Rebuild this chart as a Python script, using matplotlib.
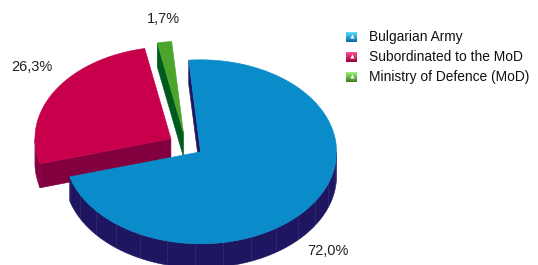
import numpy as np
import matplotlib.pyplot as plt
from matplotlib.patches import Polygon
from matplotlib.colors import to_rgb

plt.rcParams['font.family'] = ['Liberation Sans', 'DejaVu Sans']

# ---- data ----
labels = ['Bulgarian Army', 'Subordinated to the MoD', 'Ministry of Defence (MoD)']
shares = [72.0, 26.3, 1.7]
value_labels = ['72,0%', '26,3%', '1,7%']
top_colors = ['#0a8cca', '#c8004b', '#4ba42c']
side_colors = ['#1e1660', '#82003f', '#005a20']

# ---- layout (pixel space) ----
cx, cy = 186, 145
rx, ry = 136, 92
depth = 24
explode = 0.13
start = 95.0
label_pos = [(328, 251), (32, 67), (163, 19)]

fig = plt.figure(figsize=(5.38, 2.65), dpi=100)
ax = fig.add_axes([0, 0, 1, 1])
ax.set_xlim(0, 538)
ax.set_ylim(265, 0)
ax.axis('off')


def arc(ox, oy, a_from, a_to, n=None):
    if n is None:
        n = max(int(abs(a_to - a_from)) + 2, 3)
    t = np.radians(np.linspace(a_from, a_to, n))
    return np.column_stack([ox + rx * np.cos(t), oy - ry * np.sin(t)])


# slice angles, clockwise from start
slices = []
acc = start
for i, s in enumerate(shares):
    a0 = acc
    a1 = acc - s * 3.6
    mid = np.radians((a0 + a1) / 2)
    ox = cx + explode * rx * np.cos(mid)
    oy = cy - explode * ry * np.sin(mid)
    slices.append((i, a0, a1, mid, ox, oy))
    acc = a1

# draw back slices first
for i, a0, a1, mid, ox, oy in sorted(slices, key=lambda s: -np.sin(s[3])):
    top, side = top_colors[i], side_colors[i]

    # radial walls
    walls = []
    if np.sin(np.radians(a1 - 90)) < 0:
        walls.append(a1)
    if np.sin(np.radians(a0 + 90)) < 0:
        walls.append(a0)
    for a in walls:
        t = np.radians(a)
        ex, ey = ox + rx * np.cos(t), oy - ry * np.sin(t)
        quad = [(ox, oy), (ex, ey), (ex, ey + depth), (ox, oy + depth)]
        ax.add_patch(Polygon(quad, closed=True, fc=side, ec=side, lw=0.4))

    # curved outer wall (front half only)
    angs = np.linspace(a1, a0, int(abs(a0 - a1) * 2) + 2)
    front = np.sin(np.radians(angs)) < 0
    runs, cur = [], []
    for a, f in zip(angs, front):
        if f:
            cur.append(a)
        elif cur:
            runs.append(cur)
            cur = []
    if cur:
        runs.append(cur)
    for run in runs:
        t = np.radians(np.array(run))
        xs = ox + rx * np.cos(t)
        ys = oy - ry * np.sin(t)
        poly = np.vstack([np.column_stack([xs, ys]),
                          np.column_stack([xs[::-1], ys[::-1] + depth])])
        ax.add_patch(Polygon(poly, closed=True, fc=side, ec=side, lw=0.4))
        # faint facet lines
        for k in range(0, len(xs), 24):
            ax.plot([xs[k], xs[k]], [ys[k], ys[k] + depth], color='white',
                    lw=0.4, alpha=0.12)

    # top face
    pts = np.vstack([[ox, oy], arc(ox, oy, a1, a0)])
    ax.add_patch(Polygon(pts, closed=True, fc=top, ec=top, lw=0.4))

# value labels
for txt, (lx, ly) in zip(value_labels, label_pos):
    ax.text(lx, ly, txt, fontsize=10.5, color='#222222', ha='center', va='center')

# legend with small gradient squares
for k, (lab, col) in enumerate(zip(labels, top_colors)):
    y = 37 + k * 20
    c = np.array(to_rgb(col))
    grad = np.linspace(0, 1, 10)[:, None]
    img = (1 - grad) * np.minimum(c + 0.3, 1) + grad * c * 0.8
    img = np.repeat(img[:, None, :], 11, axis=1)
    ax.imshow(img, extent=(346, 357, y + 5, y - 5), interpolation='bilinear',
              aspect='auto', zorder=3)
    ax.plot(351.5, y - 1.5, marker='^', color='white', ms=3, mew=0, zorder=4)
    ax.text(369, y, lab, fontsize=9.9, color='#111111', ha='left', va='center')

ax.set_xlim(0, 538)
ax.set_ylim(265, 0)
fig.savefig('out.png', dpi=100)
